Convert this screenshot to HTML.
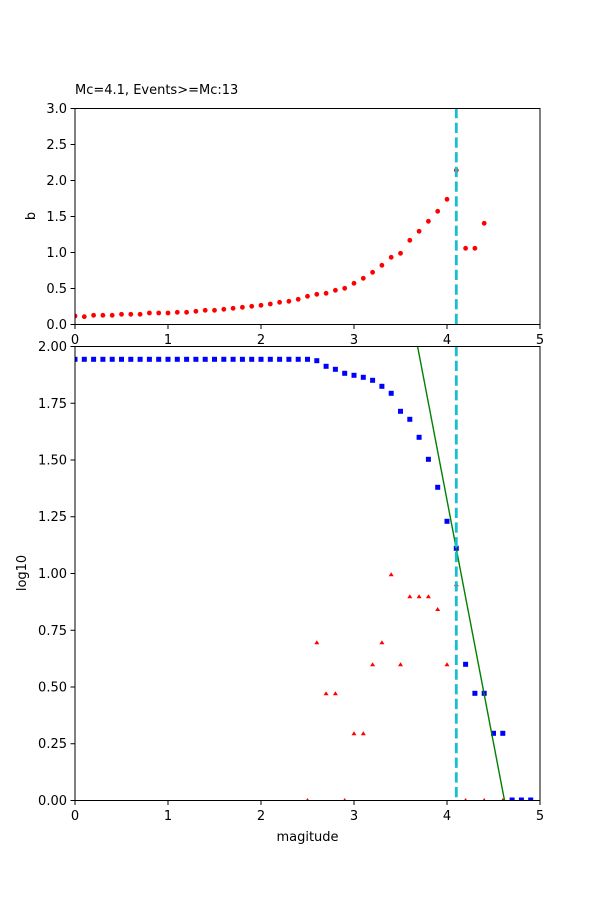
<!DOCTYPE html>
<html><head><meta charset="utf-8"><style>
html,body{margin:0;padding:0;background:#fff;}
svg{display:block;font-family:"DejaVu Sans","Liberation Sans",sans-serif;font-size:13px;}
</style></head><body>
<svg width="600" height="900" viewBox="0 0 600 900" xmlns="http://www.w3.org/2000/svg">
<defs>
<clipPath id="c1"><rect x="75" y="108" width="465" height="216"/></clipPath>
<clipPath id="c2"><rect x="75" y="346" width="465" height="454"/></clipPath>
</defs>
<rect width="600" height="900" fill="#fff"/>
<text x="75" y="94" font-size="13">Mc=4.1, Events&gt;=Mc:13</text>
<!-- TOP AXES -->
<g clip-path="url(#c1)" fill="#ff0000">
<circle cx="75" cy="316" r="2.4"/><circle cx="84.3" cy="316.7" r="2.4"/><circle cx="93.6" cy="315.3" r="2.4"/><circle cx="102.9" cy="315.3" r="2.4"/><circle cx="112.2" cy="315.3" r="2.4"/><circle cx="121.5" cy="314.3" r="2.4"/><circle cx="130.8" cy="314.3" r="2.4"/><circle cx="140.1" cy="314.3" r="2.4"/><circle cx="149.4" cy="313" r="2.4"/><circle cx="158.7" cy="313" r="2.4"/><circle cx="168" cy="313" r="2.4"/><circle cx="177.3" cy="312.3" r="2.4"/><circle cx="186.6" cy="312.3" r="2.4"/><circle cx="195.9" cy="311.3" r="2.4"/><circle cx="205.2" cy="310.3" r="2.4"/><circle cx="214.5" cy="310.3" r="2.4"/><circle cx="223.8" cy="309.3" r="2.4"/><circle cx="233.1" cy="308.3" r="2.4"/><circle cx="242.4" cy="307.3" r="2.4"/><circle cx="251.7" cy="306.3" r="2.4"/><circle cx="261" cy="305.3" r="2.4"/><circle cx="270.3" cy="304" r="2.4"/><circle cx="279.6" cy="302.3" r="2.4"/><circle cx="288.9" cy="301.3" r="2.4"/><circle cx="298.2" cy="299.3" r="2.4"/><circle cx="307.5" cy="296.3" r="2.4"/><circle cx="316.8" cy="294.3" r="2.4"/><circle cx="326.1" cy="293.3" r="2.4"/><circle cx="335.4" cy="290.3" r="2.4"/><circle cx="344.7" cy="288.3" r="2.4"/><circle cx="354" cy="283.3" r="2.4"/><circle cx="363.3" cy="278.3" r="2.4"/><circle cx="372.6" cy="272.3" r="2.4"/><circle cx="381.9" cy="265.3" r="2.4"/><circle cx="391.2" cy="257.3" r="2.4"/><circle cx="400.5" cy="253.3" r="2.4"/><circle cx="409.8" cy="240.3" r="2.4"/><circle cx="419.1" cy="231.3" r="2.4"/><circle cx="428.4" cy="221.3" r="2.4"/><circle cx="437.7" cy="211.3" r="2.4"/><circle cx="447" cy="199.3" r="2.4"/><circle cx="456.3" cy="170.3" r="2.4"/><circle cx="465.6" cy="248.3" r="2.4"/><circle cx="474.9" cy="248.3" r="2.4"/><circle cx="484.2" cy="223.3" r="2.4"/>
</g>
<line x1="456.3" y1="108" x2="456.3" y2="324" stroke="#17becf" stroke-width="2.8" stroke-dasharray="10.3,4.4"/>
<rect x="75" y="108.5" width="465" height="216" fill="none" stroke="#000" stroke-width="1"/>
<g stroke="#000" stroke-width="1">
<line x1="75" y1="324.5" x2="75" y2="329"/><line x1="168" y1="324.5" x2="168" y2="329"/><line x1="261" y1="324.5" x2="261" y2="329"/><line x1="354" y1="324.5" x2="354" y2="329"/><line x1="447" y1="324.5" x2="447" y2="329"/><line x1="540" y1="324.5" x2="540" y2="329"/>
<line x1="70.5" y1="324.5" x2="75" y2="324.5"/><line x1="70.5" y1="288.5" x2="75" y2="288.5"/><line x1="70.5" y1="252.5" x2="75" y2="252.5"/><line x1="70.5" y1="216.5" x2="75" y2="216.5"/><line x1="70.5" y1="180.5" x2="75" y2="180.5"/><line x1="70.5" y1="144.5" x2="75" y2="144.5"/><line x1="70.5" y1="108.5" x2="75" y2="108.5"/>
</g>
<g text-anchor="middle">
<text x="75" y="344">0</text><text x="168" y="344">1</text><text x="261" y="344">2</text><text x="354" y="344">3</text><text x="447" y="344">4</text><text x="540" y="344">5</text>
</g>
<g text-anchor="end">
<text x="67" y="329">0.0</text><text x="67" y="293">0.5</text><text x="67" y="257">1.0</text><text x="67" y="221">1.5</text><text x="67" y="185">2.0</text><text x="67" y="149">2.5</text><text x="67" y="113">3.0</text>
</g>
<text transform="translate(35,216) rotate(-90)" text-anchor="middle">b</text>
<!-- BOTTOM AXES -->
<g clip-path="url(#c2)">
<g fill="#0000ff">
<rect x="72.5" y="356.8" width="5" height="5"/><rect x="81.8" y="356.8" width="5" height="5"/><rect x="91.1" y="356.8" width="5" height="5"/><rect x="100.4" y="356.8" width="5" height="5"/><rect x="109.7" y="356.8" width="5" height="5"/><rect x="119" y="356.8" width="5" height="5"/><rect x="128.3" y="356.8" width="5" height="5"/><rect x="137.6" y="356.8" width="5" height="5"/><rect x="146.9" y="356.8" width="5" height="5"/><rect x="156.2" y="356.8" width="5" height="5"/><rect x="165.5" y="356.8" width="5" height="5"/><rect x="174.8" y="356.8" width="5" height="5"/><rect x="184.1" y="356.8" width="5" height="5"/><rect x="193.4" y="356.8" width="5" height="5"/><rect x="202.7" y="356.8" width="5" height="5"/><rect x="212" y="356.8" width="5" height="5"/><rect x="221.3" y="356.8" width="5" height="5"/><rect x="230.6" y="356.8" width="5" height="5"/><rect x="239.9" y="356.8" width="5" height="5"/><rect x="249.2" y="356.8" width="5" height="5"/><rect x="258.5" y="356.8" width="5" height="5"/><rect x="267.8" y="356.8" width="5" height="5"/><rect x="277.1" y="356.8" width="5" height="5"/><rect x="286.4" y="356.8" width="5" height="5"/><rect x="295.7" y="356.8" width="5" height="5"/><rect x="305" y="356.8" width="5" height="5"/>
<rect x="314.3" y="358.2" width="5" height="5"/><rect x="323.6" y="363.8" width="5" height="5"/><rect x="332.9" y="366.8" width="5" height="5"/><rect x="342.2" y="370.8" width="5" height="5"/><rect x="351.5" y="372.8" width="5" height="5"/><rect x="360.8" y="374.8" width="5" height="5"/><rect x="370.1" y="377.8" width="5" height="5"/><rect x="379.4" y="383.8" width="5" height="5"/><rect x="388.7" y="390.8" width="5" height="5"/><rect x="398" y="408.8" width="5" height="5"/><rect x="407.3" y="416.8" width="5" height="5"/><rect x="416.6" y="434.8" width="5" height="5"/><rect x="425.9" y="456.8" width="5" height="5"/><rect x="435.2" y="484.8" width="5" height="5"/><rect x="444.5" y="518.8" width="5" height="5"/><rect x="453.8" y="545.8" width="5" height="5"/><rect x="463.1" y="661.8" width="5" height="5"/><rect x="472.4" y="690.8" width="5" height="5"/><rect x="481.7" y="690.8" width="5" height="5"/><rect x="491" y="730.8" width="5" height="5"/><rect x="500.3" y="730.8" width="5" height="5"/><rect x="509.6" y="797.5" width="5" height="5"/><rect x="518.9" y="797.5" width="5" height="5"/><rect x="528.2" y="797.5" width="5" height="5"/>
</g>
<g fill="#ff0000">
<path d="M307.5,798 l2.5,4 h-5z"/><path d="M316.8,640.3 l2.5,4 h-5z"/><path d="M326.1,691.3 l2.5,4 h-5z"/><path d="M335.4,691.3 l2.5,4 h-5z"/><path d="M344.7,798 l2.5,4 h-5z"/><path d="M354,731.3 l2.5,4 h-5z"/><path d="M363.3,731.3 l2.5,4 h-5z"/><path d="M372.6,662.3 l2.5,4 h-5z"/><path d="M381.9,640.3 l2.5,4 h-5z"/><path d="M391.2,572.3 l2.5,4 h-5z"/><path d="M400.5,662.3 l2.5,4 h-5z"/><path d="M409.8,594.3 l2.5,4 h-5z"/><path d="M419.1,594.3 l2.5,4 h-5z"/><path d="M428.4,594.3 l2.5,4 h-5z"/><path d="M437.7,607 l2.5,4 h-5z"/><path d="M447,662.3 l2.5,4 h-5z"/><path d="M456.3,582.3 l2.5,4 h-5z"/><path d="M465.6,798 l2.5,4 h-5z"/><path d="M484.2,798 l2.5,4 h-5z"/><path d="M502.8,798 l2.5,4 h-5z"/>
</g>
<line x1="417.5" y1="346" x2="504.6" y2="801" stroke="#008000" stroke-width="1.4"/>
</g>
<line x1="456.3" y1="346" x2="456.3" y2="800" stroke="#17becf" stroke-width="2.8" stroke-dasharray="10.3,4.4"/>
<rect x="75" y="346.5" width="465" height="454" fill="none" stroke="#000" stroke-width="1"/>
<g stroke="#000" stroke-width="1">
<line x1="75" y1="800.5" x2="75" y2="805"/><line x1="168" y1="800.5" x2="168" y2="805"/><line x1="261" y1="800.5" x2="261" y2="805"/><line x1="354" y1="800.5" x2="354" y2="805"/><line x1="447" y1="800.5" x2="447" y2="805"/><line x1="540" y1="800.5" x2="540" y2="805"/>
<line x1="70.5" y1="800.5" x2="75" y2="800.5"/><line x1="70.5" y1="743.75" x2="75" y2="743.75"/><line x1="70.5" y1="687" x2="75" y2="687"/><line x1="70.5" y1="630.25" x2="75" y2="630.25"/><line x1="70.5" y1="573.5" x2="75" y2="573.5"/><line x1="70.5" y1="516.75" x2="75" y2="516.75"/><line x1="70.5" y1="460" x2="75" y2="460"/><line x1="70.5" y1="403.25" x2="75" y2="403.25"/><line x1="70.5" y1="346.5" x2="75" y2="346.5"/>
</g>
<g text-anchor="middle">
<text x="75" y="820">0</text><text x="168" y="820">1</text><text x="261" y="820">2</text><text x="354" y="820">3</text><text x="447" y="820">4</text><text x="540" y="820">5</text>
</g>
<g text-anchor="end">
<text x="67" y="805">0.00</text><text x="67" y="748">0.25</text><text x="67" y="691.5">0.50</text><text x="67" y="635">0.75</text><text x="67" y="578">1.00</text><text x="67" y="521">1.25</text><text x="67" y="464.5">1.50</text><text x="67" y="408">1.75</text><text x="67" y="351">2.00</text>
</g>
<text x="307.5" y="841" text-anchor="middle">magitude</text>
<text transform="translate(26,573) rotate(-90)" text-anchor="middle">log10</text>
</svg>
</body></html>
